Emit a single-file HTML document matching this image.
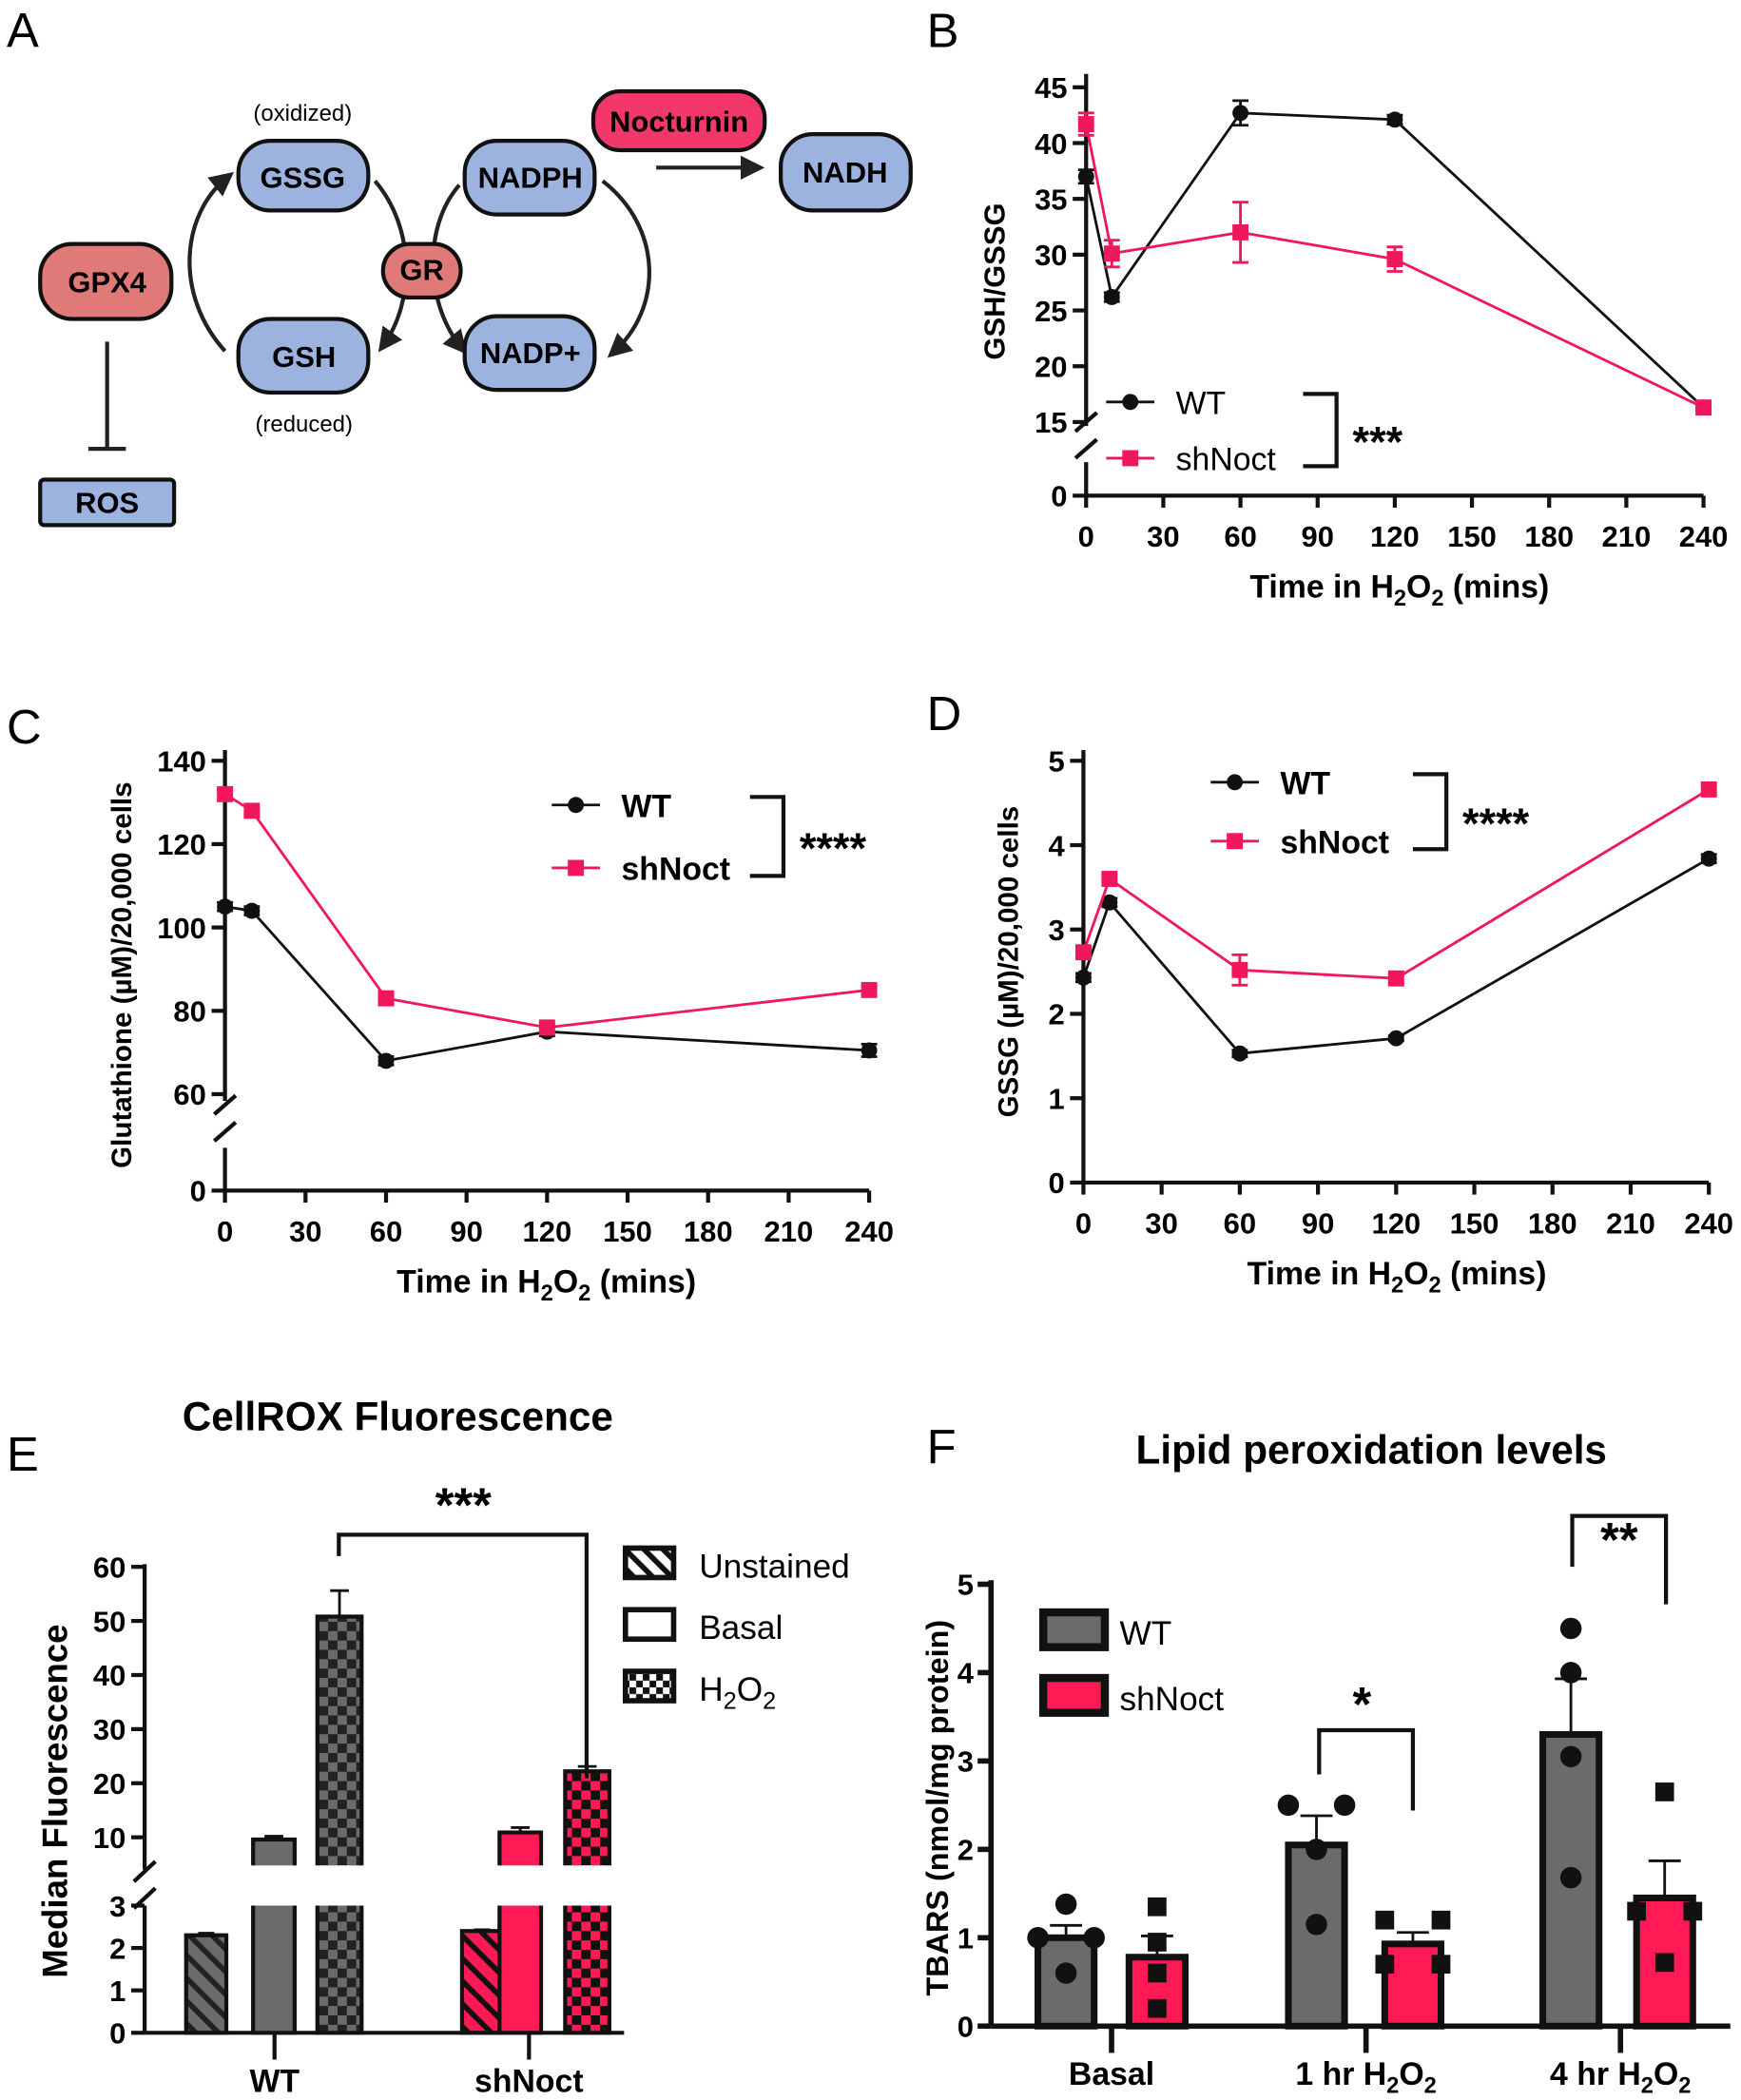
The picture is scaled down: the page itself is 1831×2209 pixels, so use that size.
<!DOCTYPE html>
<html><head><meta charset="utf-8"><style>
html,body{margin:0;padding:0;background:#fff}
svg{display:block;font-family:"Liberation Sans",Arial,sans-serif}
.t{font-weight:bold;font-size:22px}
</style></head><body>
<svg id="s" width="1831" height="2209" viewBox="0 0 1300 1568">
<defs>
<pattern id="hatchG" width="12" height="12" patternUnits="userSpaceOnUse" patternTransform="rotate(-45)"><rect width="12" height="12" fill="#6b6b6b"/><rect width="4" height="12" fill="#222"/></pattern>
<pattern id="hatchP" width="12" height="12" patternUnits="userSpaceOnUse" patternTransform="rotate(-45)"><rect width="12" height="12" fill="#ff1a55"/><rect width="4" height="12" fill="#111"/></pattern>
<pattern id="chkG" width="14" height="14" patternUnits="userSpaceOnUse"><rect width="14" height="14" fill="#6b6b6b"/><rect width="7" height="7" fill="#222"/><rect x="7" y="7" width="7" height="7" fill="#222"/></pattern>
<pattern id="chkP" width="14" height="14" patternUnits="userSpaceOnUse"><rect width="14" height="14" fill="#ff1a55"/><rect width="7" height="7" fill="#111"/><rect x="7" y="7" width="7" height="7" fill="#111"/></pattern>
<pattern id="hatchW" width="10" height="10" patternUnits="userSpaceOnUse" patternTransform="rotate(-45)"><rect width="10" height="10" fill="#fff"/><rect width="4" height="10" fill="#111"/></pattern>
<pattern id="chkW" width="10" height="10" patternUnits="userSpaceOnUse"><rect width="10" height="10" fill="#fff"/><rect width="5" height="5" fill="#111"/><rect x="5" y="5" width="5" height="5" fill="#111"/></pattern>
<marker id="ah" markerWidth="6" markerHeight="6" refX="4" refY="3" orient="auto"><path d="M0,0 L6,3 L0,6 z" fill="#222"/></marker>
</defs>

<g>
<text x="5" y="35" font-size="36">A</text>
<path d="M80,255 L80,335 M66,335 L94,335" stroke="#222" stroke-width="3" fill="none"/>
<path d="M490,125 L565,125" stroke="#222" stroke-width="3" marker-end="url(#ah)"/>
<path d="M168,262 C130,220 135,160 170,132" stroke="#222" stroke-width="3" fill="none" marker-end="url(#ah)"/>
<path d="M450,135 C495,170 495,230 458,263" stroke="#222" stroke-width="3" fill="none" marker-end="url(#ah)"/>
<path d="M280,135 C310,170 310,225 286,258" stroke="#222" stroke-width="3" fill="none" marker-end="url(#ah)"/>
<path d="M343,138 C315,170 318,228 345,260" stroke="#222" stroke-width="3" fill="none" marker-end="url(#ah)"/>
<rect x="178" y="105" width="97" height="52" rx="24" fill="#9db3df" stroke="#111" stroke-width="3"/>
<text x="226" y="140" text-anchor="middle" class="t">GSSG</text>
<text x="226" y="90" text-anchor="middle" font-size="17">(oxidized)</text>
<rect x="178" y="238" width="97" height="55" rx="24" fill="#9db3df" stroke="#111" stroke-width="3"/>
<text x="227" y="274" text-anchor="middle" class="t">GSH</text>
<text x="227" y="322" text-anchor="middle" font-size="17">(reduced)</text>
<rect x="347" y="105" width="97" height="55" rx="24" fill="#9db3df" stroke="#111" stroke-width="3"/>
<text x="396" y="140" text-anchor="middle" class="t">NADPH</text>
<rect x="347" y="236" width="97" height="55" rx="24" fill="#9db3df" stroke="#111" stroke-width="3"/>
<text x="396" y="271" text-anchor="middle" class="t">NADP+</text>
<rect x="583" y="100" width="97" height="57" rx="24" fill="#9db3df" stroke="#111" stroke-width="3"/>
<text x="631" y="136" text-anchor="middle" class="t">NADH</text>
<rect x="443" y="68" width="128" height="44" rx="20" fill="#f2386a" stroke="#111" stroke-width="3"/>
<text x="507" y="98" text-anchor="middle" class="t">Nocturnin</text>
<rect x="286" y="182" width="58" height="40" rx="20" fill="#e07a78" stroke="#111" stroke-width="3"/>
<text x="315" y="209" text-anchor="middle" class="t">GR</text>
<rect x="30" y="182" width="98" height="56" rx="24" fill="#e07a78" stroke="#111" stroke-width="3"/>
<text x="80" y="218" text-anchor="middle" class="t">GPX4</text>
<rect x="30" y="358" width="100" height="34" rx="3" fill="#9db3df" stroke="#111" stroke-width="3"/>
<text x="80" y="383" text-anchor="middle" class="t">ROS</text>
</g>

<g id="charts"></g>
</svg>
<script>
const timesB=[0,10,60,120,240];
const wtB=[37,26.2,42.7,42.1,16.3];
const wtBerr=[0.6,0.4,1.1,0.4,0.3];
const shB=[41.7,30.1,32,29.6,16.3];
const shBerr=[1.0,1.2,2.7,1.1,0.3];
const ticksBy=[15,20,25,30,35,40,45];
const ticksX=[0,30,60,90,120,150,180,210,240];
const wtC=[105,104,68,75,70.5];
const wtCerr=[1,1,1,1,1.5];
const shC=[132,128,83,76,85];
const shCerr=[1,1,1,1,1];
const ticksCy=[60,80,100,120,140];
const wtD=[2.43,3.32,1.53,1.71,3.84];
const wtDerr=[0.05,0.05,0.04,0.03,0.05];
const shD=[2.73,3.60,2.52,2.42,4.66];
const shDerr=[0.06,0.05,0.18,0.05,0.05];
const ticksDy=[0,1,2,3,4,5];
const groupsE=['WT','shNoct'];
const conditionsE=['Unstained','Basal','H2O2'];
const wtE=[2.3,9.6,50.8];
const wtEerr=[0.05,0.6,4.8];
const shE=[2.4,10.9,22.2];
const shEerr=[0.03,0.9,0.9];
const ticksElow=[0,1,2,3];
const ticksEhigh=[10,20,30,40,50,60];
const groupsF=['Basal','1 hr','4 hr'];
const wtF=[1.0,2.05,3.3];
const wtFerr=[0.14,0.33,0.63];
const shF=[0.78,0.93,1.45];
const shFerr=[0.24,0.13,0.42];
const wtFpts=[[1.38,1.0,1.0,0.6],[2.5,2.5,2.0,1.15],[4.5,4.0,3.05,1.68]];
const shFpts=[[1.35,0.95,0.6,0.2],[1.2,1.2,0.7,0.7],[2.65,1.3,1.3,0.72]];
const ticksFy=[0,1,2,3,4,5];

const NS='http://www.w3.org/2000/svg';
const root=document.getElementById('charts');
function el(tag,attrs,parent,txt){const e=document.createElementNS(NS,tag);for(const k in attrs)e.setAttribute(k,attrs[k]);if(txt!==undefined)e.textContent=txt;(parent||root).appendChild(e);return e;}
function grp(name){const g=el('g',{});


return g;}
function h2o2Label(g,x,y,prefix,size,anchor,suffix){
  const t=el('text',{x:x,y:y,'font-size':size,'font-weight':'bold','text-anchor':anchor||'middle'},g);
  t.innerHTML=prefix+'H<tspan dy="6" font-size="'+(size*0.7)+'">2</tspan><tspan dy="-6">O</tspan><tspan dy="6" font-size="'+(size*0.7)+'">2</tspan>'+(suffix?'<tspan dy="-6">'+suffix+'</tspan>':'');
  return t;}

function lineChart(cfg){
  const g=grp(cfg.name);
  const sx=t=>cfg.x0+t*(cfg.x1-cfg.x0)/240;
  const sy=cfg.sy;
  const ax=el('path',{d:cfg.axisPath,stroke:'#111','stroke-width':3,fill:'none'},g);
  
  
  const xa=el('line',{x1:cfg.x0,x2:cfg.x1,y1:cfg.base,y2:cfg.base,stroke:'#111','stroke-width':3},g);
  
  
  ticksX.forEach(t=>{el('line',{x1:sx(t),x2:sx(t),y1:cfg.base,y2:cfg.base+9,stroke:'#111','stroke-width':3},g);
    const l=el('text',{x:sx(t),y:cfg.base+38,'text-anchor':'middle',class:'t'},g,String(t));
    
    });
  cfg.yticks.forEach(v=>{el('line',{x1:cfg.x0-10,x2:cfg.x0,y1:sy(v),y2:sy(v),stroke:'#111','stroke-width':3},g);
    const l=el('text',{x:cfg.x0-14,y:sy(v)+8,'text-anchor':'end',class:'t'},g,String(v));
    
    });
  if(cfg.zero){el('line',{x1:cfg.x0-10,x2:cfg.x0,y1:cfg.base,y2:cfg.base,stroke:'#111','stroke-width':3},g);
    el('text',{x:cfg.x0-14,y:cfg.base+8,'text-anchor':'end',class:'t'},g,'0');}
  [[cfg.wt,cfg.wtErr,'#111','wt'],[cfg.sh,cfg.shErr,'#f0185a','shnoct']].forEach(([d,e,c,n])=>{
    const pts=d.map((v,i)=>sx(timesB[i])+','+sy(v)).join(' ');
    const pl=el('polyline',{points:pts,fill:'none',stroke:c,'stroke-width':2},g);
    
    
    d.forEach((v,i)=>{const x=sx(timesB[i]);
      el('path',{d:`M${x-6},${sy(v+e[i])}H${x+6}M${x},${sy(v+e[i])}V${sy(v-e[i])}M${x-6},${sy(v-e[i])}H${x+6}`,stroke:c,'stroke-width':2},g);
      let m;
      if(n==='wt')m=el('circle',{cx:x,cy:sy(v),r:6,fill:c},g);
      else m=el('rect',{x:x-6,y:sy(v)-6,width:12,height:12,fill:c},g);
      
      });
  });
  const xt=h2o2Label(g,cfg.xTitleX,cfg.base+76,'Time in ',24,'middle',' (mins)');
  
  
  const yt=el('text',{x:0,y:0,transform:`translate(${cfg.yTitleX},${cfg.yTitleY}) rotate(-90)`,'text-anchor':'middle','font-size':cfg.ytSize||22,'font-weight':'bold'},g,cfg.yTitle);
  
  
  const L=cfg.leg;
  const lw=el('g',{},g);
  el('line',{x1:L.x,x2:L.x+36,y1:L.y1,y2:L.y1,stroke:'#111','stroke-width':2},lw);
  el('circle',{cx:L.x+18,cy:L.y1,r:6,fill:'#111'},lw);
  el('text',{x:L.x+52,y:L.y1+9,'font-size':24,'font-weight':L.bold?'bold':'normal'},lw,'WT');
  const ls=el('g',{},g);
  el('line',{x1:L.x,x2:L.x+36,y1:L.y2,y2:L.y2,stroke:'#f0185a','stroke-width':2},ls);
  el('rect',{x:L.x+12,y:L.y2-6,width:12,height:12,fill:'#f0185a'},ls);
  el('text',{x:L.x+52,y:L.y2+9,'font-size':24,'font-weight':L.bold?'bold':'normal'},ls,'shNoct');
  const br=el('path',{d:`M${L.bx-25},${L.y1-6}H${L.bx}V${L.y2+6}H${L.bx-25}`,stroke:'#111','stroke-width':3,fill:'none'},g);
  
  const st=el('text',{x:L.bx+12,y:(L.y1+L.y2)/2+20,'font-size':32,'font-weight':'bold'},g,L.stars);
  
  const pl=el('text',{x:cfg.labX,y:cfg.labY,'font-size':36},g,cfg.label);
  
}

const sB=v=>315-(v-15)*(250/30);
lineChart({name:'panel-b-chart',x0:811,x1:1272,base:370,sy:sB,yticks:ticksBy,zero:true,
 axisPath:'M811,55 V318 M803,322 L819,308 M803,342 L819,328 M811,345 V370',
 wt:wtB,wtErr:wtBerr,sh:shB,shErr:shBerr,xTitleX:1045,yTitle:'GSH/GSSG',yTitleX:750,yTitleY:210,
 leg:{x:826,y1:300,y2:342,bx:998,stars:'***',bold:false},label:'B',labX:692,labY:35});
const sC=v=>817-(v-60)*(249/80);
lineChart({name:'panel-c-chart',x0:168,x1:649,base:889,sy:sC,yticks:ticksCy,zero:true,
 axisPath:'M168,560 V822 M160,832 L176,818 M160,852 L176,838 M168,857 V889',
 wt:wtC,wtErr:wtCerr,sh:shC,shErr:shCerr,xTitleX:408,yTitle:'Glutathione (µM)/20,000 cells',yTitleX:98,yTitleY:728,ytSize:21,
 leg:{x:412,y1:601,y2:648,bx:585,stars:'****',bold:true},label:'C',labX:5,labY:555});
const sD=v=>883-v*63;
lineChart({name:'panel-d-chart',x0:809,x1:1276,base:883,sy:sD,yticks:ticksDy,zero:false,
 axisPath:'M809,560 V883',
 wt:wtD,wtErr:wtDerr,sh:shD,shErr:shDerr,xTitleX:1043,yTitle:'GSSG (µM)/20,000 cells',yTitleX:760,yTitleY:718,ytSize:21,
 leg:{x:904,y1:584,y2:628,bx:1080,stars:'****',bold:true},label:'D',labX:692,labY:545});

(function(){
 const g=grp('panel-e-chart');
 const base=1518;
 const sLow=v=>base-v*(95/3);
 const sHigh=v=>1372-(v-10)*(202/50);
 const barW=[30,31,33];
 const xsW=[139,189,237], xsS=[345,373,422];
 el('text',{x:5,y:1098,'font-size':36},g,'E');
 el('text',{x:297,y:1068,'text-anchor':'middle','font-size':30,'font-weight':'bold'},g,'CellROX Fluorescence');
 const yax=el('path',{d:'M108,1168 V1396 M100,1405 L116,1390 M100,1425 L116,1410 M108,1423 V1518',stroke:'#111','stroke-width':3,fill:'none'},g);
 
 el('line',{x1:108,x2:466,y1:base,y2:base,stroke:'#111','stroke-width':3},g);
 ticksElow.forEach(v=>{el('line',{x1:98,x2:108,y1:sLow(v),y2:sLow(v),stroke:'#111','stroke-width':3},g);
  el('text',{x:94,y:sLow(v)+8,'text-anchor':'end',class:'t'},g,String(v));});
 ticksEhigh.forEach(v=>{el('line',{x1:98,x2:108,y1:sHigh(v),y2:sHigh(v),stroke:'#111','stroke-width':3},g);
  el('text',{x:94,y:sHigh(v)+8,'text-anchor':'end',class:'t'},g,String(v));});
 const yt=el('text',{transform:'translate(50,1345) rotate(-90)','text-anchor':'middle','font-size':26,'font-weight':'bold'},g,'Median Fluorescence');
 
 const fillsW=['url(#hatchG)','#6b6b6b','url(#chkG)'], fillsS=['url(#hatchP)','#ff1a55','url(#chkP)'];
 [[wtE,wtEerr,xsW,fillsW,'wt'],[shE,shEerr,xsS,fillsS,'shnoct']].forEach(([d,e,xs,f,n])=>{
  d.forEach((v,i)=>{const x=xs[i],w=barW[i];
   if(v<=3){const r=el('rect',{x:x,y:sLow(v),width:w,height:base-sLow(v),fill:f[i],stroke:'#111','stroke-width':3},g);
     
     
     el('path',{d:`M${x+w/2},${sLow(v)}V${sLow(v+e[i])}M${x+w/2-6},${sLow(v+e[i])}H${x+w/2+6}`,stroke:'#111','stroke-width':2},g);
   } else {
     const r1=el('path',{d:`M${x},${sLow(3)}V${base}H${x+w}V${sLow(3)}`,fill:f[i],stroke:'#111','stroke-width':3},g);
     
     
     const r2=el('path',{d:`M${x},1393V${sHigh(v)}H${x+w}V1393`,fill:f[i],stroke:'#111','stroke-width':3},g);
     
     
     el('path',{d:`M${x+w/2},${sHigh(v)}V${sHigh(v+e[i])}M${x+w/2-7},${sHigh(v+e[i])}H${x+w/2+7}`,stroke:'#111','stroke-width':2},g);
   }});
 });
 [205,395].forEach((x,i)=>{el('line',{x1:x,x2:x,y1:base,y2:base+20,stroke:'#111','stroke-width':3},g);
  const l=el('text',{x:x,y:1562,'text-anchor':'middle','font-size':24,'font-weight':'bold'},g,groupsE[i]);
  });
 const br=el('path',{d:`M${xsW[2]+16},1162V1146H${xsS[2]+16}V1328`,stroke:'#111','stroke-width':3,fill:'none'},g);
 
 el('text',{x:346,y:1136,'text-anchor':'middle','font-size':36,'font-weight':'bold'},g,'***');
 const leg=[['url(#hatchW)','Unstained'],['#fff','Basal'],['url(#chkW)',null]];
 leg.forEach((L,i)=>{const y=1168+i*46;const lg=el('g',{},g);
  
  
  el('rect',{x:467,y:y-12,width:36,height:22,fill:L[0],stroke:'#111','stroke-width':4},lg);
  if(L[1])el('text',{x:522,y:y+10,'font-size':25},lg,L[1]);
  else{const t=el('text',{x:522,y:y+10,'font-size':25},lg);t.innerHTML='H<tspan dy="6" font-size="18">2</tspan><tspan dy="-6">O</tspan><tspan dy="6" font-size="18">2</tspan>';}
 });
})();

(function(){
 const g=grp('panel-f-chart');
 const base=1513, ax=740;
 const sy=v=>base-v*66;
 const xsW=[775,962,1152], xsS=[843,1034,1222], w=42;
 el('text',{x:692,y:1093,'font-size':36},g,'F');
 el('text',{x:1024,y:1093,'text-anchor':'middle','font-size':30,'font-weight':'bold'},g,'Lipid peroxidation levels');
 el('line',{x1:ax,x2:ax,y1:1180,y2:base,stroke:'#111','stroke-width':4},g);
 el('line',{x1:ax,x2:1292,y1:base,y2:base,stroke:'#111','stroke-width':4},g);
 ticksFy.forEach(v=>{el('line',{x1:ax-10,x2:ax,y1:sy(v),y2:sy(v),stroke:'#111','stroke-width':4},g);
  el('text',{x:ax-13,y:sy(v)+8,'text-anchor':'end',class:'t'},g,String(v));});
 el('text',{transform:'translate(708,1350) rotate(-90)','text-anchor':'middle','font-size':23,'font-weight':'bold'},g,'TBARS (nmol/mg protein)');
 [[wtF,wtFerr,xsW,'#6b6b6b','wt',wtFpts],[shF,shFerr,xsS,'#ff1a55','shnoct',shFpts]].forEach(([d,e,xs,c,n,pts])=>{
  d.forEach((v,i)=>{const x=xs[i];
   el('path',{d:`M${x+w/2},${sy(v)}V${sy(v+e[i])}M${x+w/2-12},${sy(v+e[i])}H${x+w/2+12}`,stroke:'#111','stroke-width':2},g);
   const r=el('rect',{x:x,y:sy(v),width:w,height:base-sy(v),fill:c,stroke:'#111','stroke-width':5},g);
   
   
   const arr=pts[i];
   arr.forEach((p,j)=>{let off=0;
     const dupBefore=arr.slice(0,j).some(q=>Math.abs(q-p)<0.1);
     const dupAfter=arr.slice(j+1).some(q=>Math.abs(q-p)<0.1);
     if(dupAfter)off=-21;else if(dupBefore)off=21;
     let m;
     if(n==='wt')m=el('circle',{cx:x+w/2+off,cy:sy(p),r:8,fill:'#111'},g);
     else m=el('rect',{x:x+w/2+off-7,y:sy(p)-7,width:14,height:14,fill:'#111'},g);
     
     });
  });
 });
 [830,1020,1210].forEach((x,i)=>{el('line',{x1:x,x2:x,y1:base,y2:base+20,stroke:'#111','stroke-width':4},g);
  let t;
  if(i===0)t=el('text',{x:x,y:1557,'text-anchor':'middle','font-size':24,'font-weight':'bold'},g,groupsF[i]);
  else t=h2o2Label(g,x,1557,groupsF[i]+' ',24,'middle');
  });
 el('path',{d:'M985,1325V1292H1055V1352',stroke:'#111','stroke-width':3,fill:'none'},g);
 el('text',{x:1017,y:1285,'text-anchor':'middle','font-size':36,'font-weight':'bold'},g,'*');
 el('path',{d:'M1174,1170V1132H1244V1198',stroke:'#111','stroke-width':3,fill:'none'},g);
 el('text',{x:1209,y:1162,'text-anchor':'middle','font-size':36,'font-weight':'bold'},g,'**');
 [['#6b6b6b','WT',1218],['#ff1a55','shNoct',1267]].forEach(L=>{const lg=el('g',{},g);
  
  
  el('rect',{x:779,y:L[2]-14,width:46,height:26,fill:L[0],stroke:'#111','stroke-width':6},lg);
  el('text',{x:836,y:L[2]+10,'font-size':25},lg,L[1]);});
})();
</script>
</body></html>
